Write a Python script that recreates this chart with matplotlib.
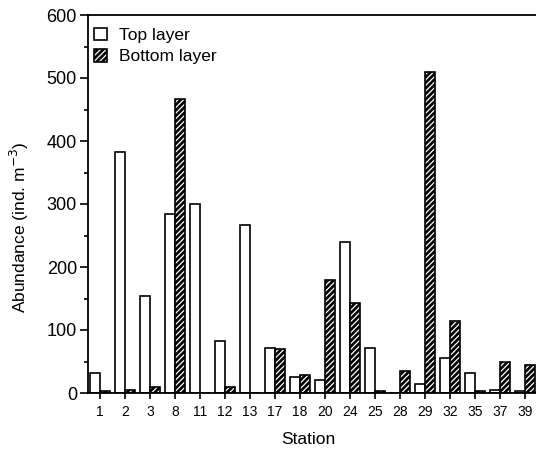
import numpy as np
import matplotlib
matplotlib.use('Agg')
import matplotlib.pyplot as plt
from matplotlib.ticker import MultipleLocator

plt.rcParams['font.family'] = ['Liberation Sans', 'DejaVu Sans']
plt.rcParams['hatch.linewidth'] = 0.9

# data
stations = ['1', '2', '3', '8', '11', '12', '13', '17', '18',
            '20', '24', '25', '28', '29', '32', '35', '37', '39']
top_layer = [32, 383, 154, 284, 300, 82, 267, 72, 25,
             21, 239, 72, 0, 14, 56, 32, 5, 3]
bottom_layer = [3, 5, 10, 466, 0, 10, 0, 70, 29,
                179, 143, 3, 35, 510, 114, 3, 49, 45]

fig = plt.figure(figsize=(5.36, 4.49), dpi=100)
ax = fig.add_axes([88 / 536, 56 / 449, 449 / 536, 378 / 449])

x = np.arange(len(stations))
w = 0.4

# top layer: open bars
b_top = ax.bar(x - w / 2, top_layer, w, facecolor='white',
               edgecolor='black', linewidth=1.2)
# bottom layer: black with white hatch, then a black outline on top
b_hatch = ax.bar(x + w / 2, bottom_layer, w, facecolor='black',
                 edgecolor='white', hatch='//////', linewidth=0)
b_edge = ax.bar(x + w / 2, bottom_layer, w, fill=False,
                edgecolor='black', linewidth=1.2)

ax.set_xlim(-0.48, len(stations) - 0.52)
ax.set_ylim(0, 600)
ax.set_xticks(x)
ax.set_xticklabels(stations, fontsize=10)
ax.yaxis.set_major_locator(MultipleLocator(100))
ax.yaxis.set_minor_locator(MultipleLocator(50))
ax.tick_params(axis='y', which='major', length=6, width=1.2,
               labelsize=13, pad=2)
ax.tick_params(axis='y', which='minor', length=3, width=1.2)
ax.tick_params(axis='x', which='major', length=4, width=1.2, pad=5)

for side in ['left', 'bottom', 'top']:
    ax.spines[side].set_linewidth(1.3)
ax.spines['right'].set_visible(False)

ax.set_xlabel('Station', fontsize=12.5)
ax.xaxis.set_label_coords(0.49, -0.102)
ax.set_ylabel('Abundance (ind. m$^{-3}$)', fontsize=12.5)
ax.yaxis.set_label_coords(-0.128, 0.437)

ax.legend([b_top, (b_hatch, b_edge)], ['Top layer', 'Bottom layer'],
          loc='upper left', bbox_to_anchor=(-0.008, 0.992),
          frameon=False, fontsize=12.5,
          handlelength=0.75, handleheight=0.75, handletextpad=0.7,
          labelspacing=0.35, borderaxespad=0.35, borderpad=0.2)

fig.savefig('out.png', dpi=100)
